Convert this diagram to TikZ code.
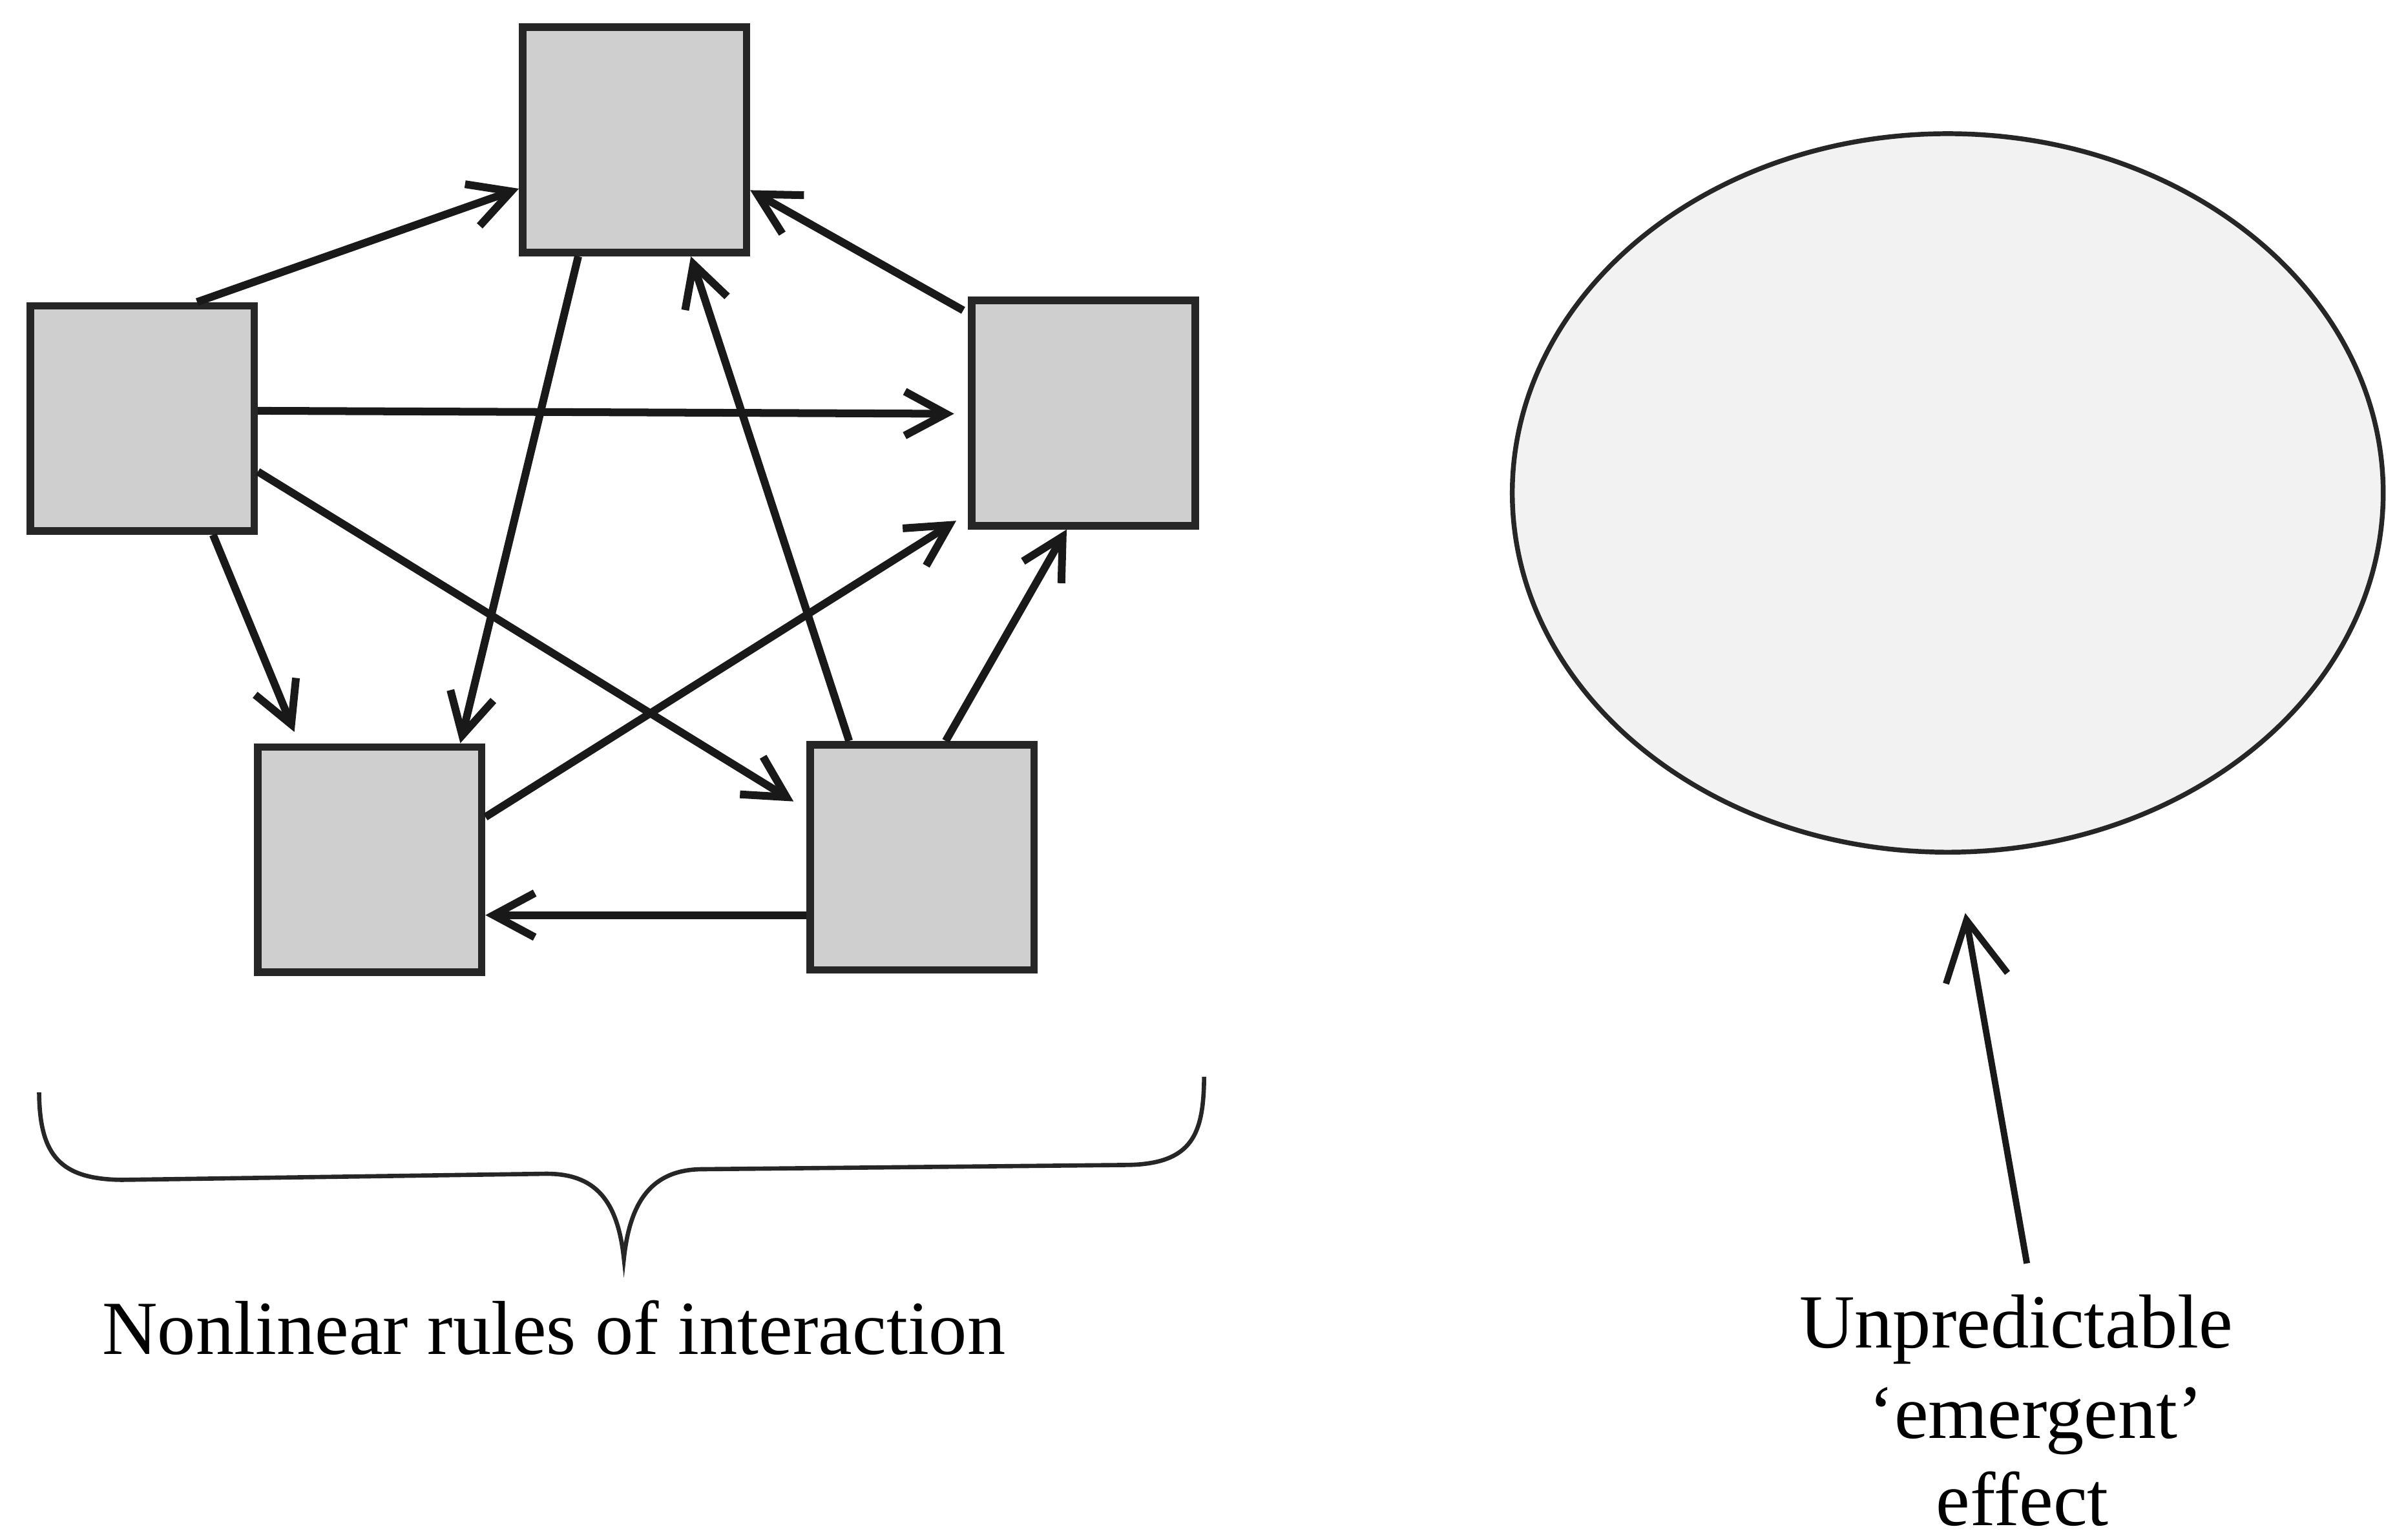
\documentclass[tikz,border=0pt]{standalone}
\usepackage{fontspec}
\setmainfont{Liberation Serif}
\usetikzlibrary{arrows.meta,calc,shapes.geometric}
\begin{document}
\begin{tikzpicture}[x=0.01cm,y=-0.01cm,
  agent/.style={draw=black!85, line width=1.4pt, fill=black!19,
    minimum width=1.47cm, minimum height=1.48cm, inner sep=0pt},
  link/.style={line width=1.45pt, draw=black!90,
    -{Straight Barb[length=0.27cm,width=0.29cm]}},
  lbl/.style={font=\fontsize{14.3pt}{16.6pt}\selectfont, inner sep=0pt, anchor=base}]

\useasboundingbox[fill=white] (0,0) rectangle (1568,1012);

% the five interacting agents
\node[agent] (T)  at (417,92)    {};
\node[agent] (L)  at (93.5,275)  {};
\node[agent] (R)  at (712,271.5) {};
\node[agent] (BL) at (243,565)   {};
\node[agent] (BR) at (606,563.5) {};

% interactions between the agents
\draw[link] ($(L.north)+(36,0)$) -- ($(T.west)+(0,32)$);
\draw[link] ($(T.south)+(-37,0)$) -- ($(BL.north)+(59.5,0)$);
\draw[link] ($(R.north west)+(-3,9)$) -- ($(T.east)+(0,33)$);
\draw[link, shorten >=0.09cm] ($(L.east)+(0,-5)$) -- ($(R.west)+(0,0.5)$);
\draw[link, shorten >=0.08cm] ($(L.south)+(46.5,0)$) -- ($(BL.north)+(-46.5,0)$);
\draw[link, shorten >=0.1cm] ($(L.east)+(0,35)$) -- ($(BR.west)+(0,-31.5)$);
\draw[link, shorten >=0.09cm] ($(BL.east)+(0,-28)$) -- ($(R.west)+(0,66)$);
\draw[link] ($(BR.north)+(-48,0)$) -- ($(T.south)+(37,0)$);
\draw[link] ($(BR.north)+(15.5,0)$) -- ($(R.south)+(-11,0)$);
\draw[link] ($(BR.west)+(0,38)$) -- ($(BL.east)+(0,36.5)$);

% brace under the network
\draw[line width=0.8pt, black!85]
  (25.7,718) .. controls (26,760) and (40,775) .. (80,775.5)
  -- (358,771.5) .. controls (392,771) and (406,790) .. (410,827.3)
  .. controls (414,790) and (428,768.5) .. (462,768.5)
  -- (741,765.7) .. controls (784,765) and (791,745) .. (791.3,707.7);

% emergent effect
\node[ellipse, draw=black!85, line width=0.9pt, fill=black!5,
  minimum width=5.72cm, minimum height=4.72cm, inner sep=0pt] (E) at (1280,324) {};

% labels
\node[lbl] (rules) at (364,890) {Nonlinear rules of interaction};
\node[lbl] (u1) at (1325,886) {Unpredictable};
\node[lbl] (u2) at (1338,945.4) {‘emergent’};
\node[lbl] (u3) at (1329,1002.8) {effect};

\draw[line width=1.2pt, black!90, -{Straight Barb[length=0.39cm,width=0.41cm]}]
  ($(u1.north)+(7,-20)$) -- ($(E.south)+(11.5,38.4)$);

\end{tikzpicture}
\end{document}
